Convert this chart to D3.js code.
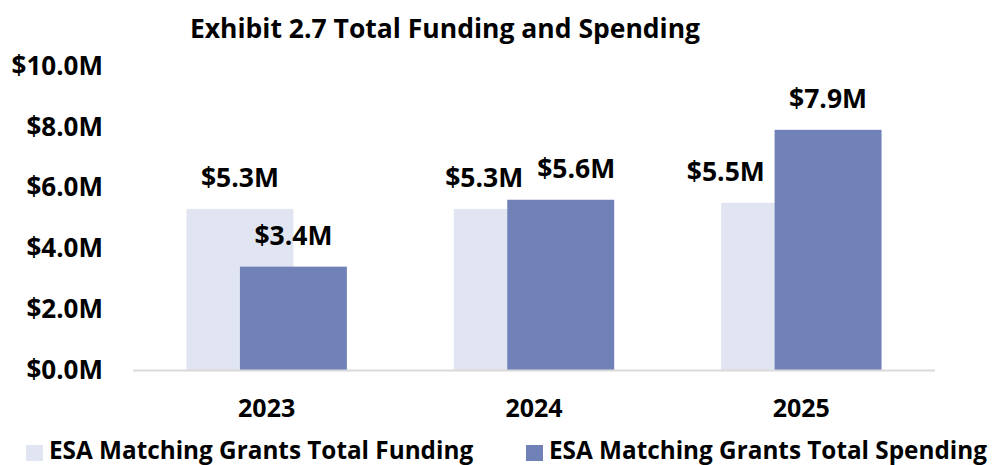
<!DOCTYPE html>
<html>
<head>
<meta charset="utf-8">
<script src="https://cdn.jsdelivr.net/npm/d3@7"></script>
<style>
  html, body { margin: 0; padding: 0; background: #fff; }
  svg text { font-family: "Open Sans", sans-serif; font-weight: bold; fill: #000; }
</style>
</head>
<body>
<div id="chart"></div>
<script>
// Chart data (values in $M)
const years = ['2023', '2024', '2025'];
const funding = [5.3, 5.3, 5.5];
const spending = [3.4, 5.6, 7.9];
const yTicks = [0, 2, 4, 6, 8, 10];
const seriesNames = ['ESA Matching Grants Total Funding', 'ESA Matching Grants Total Spending'];

const width = 997;
const height = 465;
const colors = ['#e1e5f1', '#7081b8'];

const svg = d3.select('#chart')
  .append('svg')
  .attr('width', width)
  .attr('height', height);

const x = d3.scaleBand()
  .domain(years)
  .range([133, 935])
  .paddingInner(0.4)
  .paddingOuter(0.2);

const y = d3.scaleLinear()
  .domain([0, 10])
  .range([370, 66]);

const fmt = v => '$' + d3.format('.1f')(v) + 'M';

// Title
svg.append('text')
  .attr('x', 445)
  .attr('y', 38)
  .attr('text-anchor', 'middle')
  .attr('font-size', '26.5px')
  .text('Exhibit 2.7 Total Funding and Spending');

// Y axis labels
const yAxis = d3.axisLeft(y)
  .tickValues(yTicks)
  .tickSize(0)
  .tickPadding(0)
  .tickFormat(fmt);

svg.append('g')
  .attr('transform', 'translate(103,0)')
  .call(yAxis)
  .call(g => g.select('.domain').remove())
  .selectAll('text')
  .attr('font-size', '26px')
  .attr('fill', '#000');

// Bars: funding behind, spending offset by a third of the band
const bw = x.bandwidth() * 2 / 3;
const off = x.bandwidth() / 3;

const rows = years.map((yr, i) => ({ year: yr, funding: funding[i], spending: spending[i] }));

svg.selectAll('.bar-f')
  .data(rows)
  .enter()
  .append('rect')
  .attr('class', 'bar-f')
  .attr('x', d => x(d.year))
  .attr('y', d => y(d.funding))
  .attr('width', bw)
  .attr('height', d => y(0) - y(d.funding))
  .attr('fill', colors[0]);

svg.selectAll('.bar-s')
  .data(rows)
  .enter()
  .append('rect')
  .attr('class', 'bar-s')
  .attr('x', d => x(d.year) + off)
  .attr('y', d => y(d.spending))
  .attr('width', bw)
  .attr('height', d => y(0) - y(d.spending))
  .attr('fill', colors[1]);

// Baseline
svg.append('line')
  .attr('x1', 133)
  .attr('x2', 935)
  .attr('y1', y(0) + 0.5)
  .attr('y2', y(0) + 0.5)
  .attr('stroke', '#d9d9d9')
  .attr('stroke-width', 2);

// X axis labels
const xAxis = d3.axisBottom(x).tickSize(0).tickPadding(0);
svg.append('g')
  .attr('transform', 'translate(0,' + y(0) + ')')
  .call(xAxis)
  .call(g => g.select('.domain').remove())
  .selectAll('text')
  .attr('dy', null)
  .attr('y', 47)
  .attr('font-size', '25px')
  .attr('fill', '#000');

// Data labels, nudged apart where they collide (like the original)
const labelSize = 26.5;
const gap = 14;
rows.forEach(d => {
  const fx = x(d.year) + bw / 2;
  const sx = x(d.year) + off + bw / 2;
  const fy = y(d.funding) - 22;
  const sy = y(d.spending) - 22;

  const fl = svg.append('text')
    .attr('text-anchor', 'middle')
    .attr('font-size', labelSize + 'px')
    .attr('x', fx).attr('y', fy)
    .text(fmt(d.funding));
  const sl = svg.append('text')
    .attr('text-anchor', 'middle')
    .attr('font-size', labelSize + 'px')
    .attr('x', sx).attr('y', sy)
    .text(fmt(d.spending));

  const fw = fl.node().getComputedTextLength();
  const sw = sl.node().getComputedTextLength();
  const lh = labelSize * 0.75;
  let fxx = fx, sxx = sx;

  // funding label against spending bar
  const barLeft = x(d.year) + off;
  if (fy > y(d.spending) && fxx + fw / 2 > barLeft - gap * 0.7) {
    fxx = barLeft - gap * 0.7 - fw / 2;
  }
  // funding label against spending label
  const vOverlap = Math.abs(fy - sy) < lh;
  const hOverlap = (fxx + fw / 2 + gap) - (sxx - sw / 2);
  if (vOverlap && hOverlap > 0) {
    fxx -= hOverlap * 0.6;
    sxx += hOverlap * 0.4;
  }
  fl.attr('x', fxx);
  sl.attr('x', sxx);
});

// Legend
const legend = svg.append('g').attr('transform', 'translate(0,459)');
const legendX = [26, 526];
seriesNames.forEach((name, i) => {
  legend.append('rect')
    .attr('x', legendX[i])
    .attr('y', -14)
    .attr('width', 17)
    .attr('height', 16)
    .attr('fill', colors[i]);
  legend.append('text')
    .attr('x', legendX[i] + 23)
    .attr('y', 0)
    .attr('font-size', '24.3px')
    .text(name);
});
</script>
</body>
</html>
